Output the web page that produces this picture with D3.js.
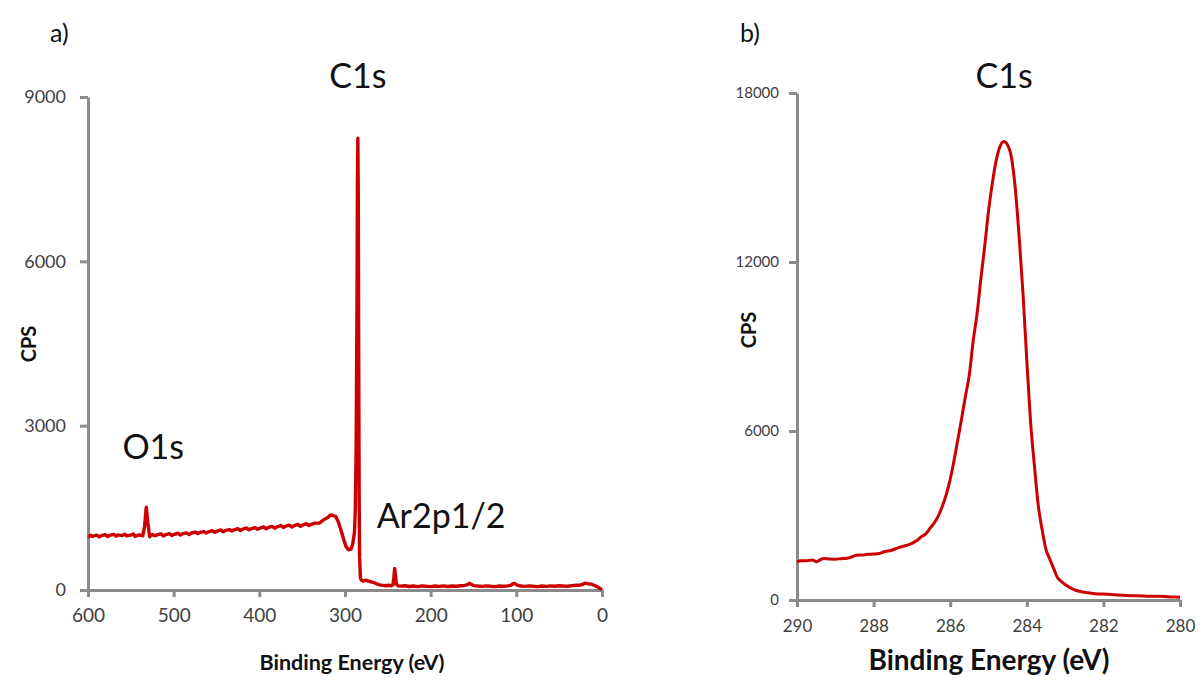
<!DOCTYPE html>
<html>
<head>
<meta charset="utf-8">
<script src="https://cdn.jsdelivr.net/npm/d3@7"></script>
<style>
  html, body { margin: 0; padding: 0; background: #fff; }
  svg { display: block; font-family: Lato, "Open Sans", sans-serif; }
</style>
</head>
<body>
<svg id="chart" width="1200" height="681"></svg>
<script>
// Survey spectrum (panel a): binding energy (eV) and counts per second
const surveyEnergy = [
  600, 597, 595, 590, 587, 585, 580, 577, 575, 570, 567, 565, 560, 557, 555, 550, 547, 545, 540, 536,
  534, 532, 530, 528, 525, 522, 520, 515, 512, 510, 505, 502, 500, 495, 492, 490, 485, 482, 480, 475,
  472, 470, 465, 462, 460, 455, 452, 450, 445, 442, 440, 435, 432, 430, 425, 422, 420, 415, 412, 410,
  405, 402, 400, 395, 392, 390, 385, 382, 380, 375, 372, 370, 365, 362, 360, 355, 352, 350, 345, 342,
  340, 335, 330, 325, 320, 317, 314, 311, 308, 305, 302, 299, 296, 293, 291, 289, 288, 287, 286, 285.5,
  285, 284.5, 284, 283.5, 283, 282, 281, 279, 276, 273, 270, 267, 264, 261, 258, 255, 252, 249, 246, 244,
  243, 242, 241, 240, 238, 235, 230, 225, 220, 215, 210, 205, 200, 195, 190, 185, 180, 175, 170, 165,
  160, 157, 155, 153, 150, 145, 140, 135, 130, 125, 120, 115, 110, 106, 104, 102, 100, 95, 90, 85,
  80, 75, 70, 65, 60, 55, 50, 45, 40, 35, 30, 25, 22, 20, 18, 15, 12, 10, 7, 5, 3, 1, 0
];
const surveyCps = [
  962, 1000, 978, 1004, 968, 990, 1012, 975, 998, 1015, 982, 1006, 992, 1020, 987, 1001, 1022, 978, 1008, 990,
  1160, 1510, 1210, 972, 1012, 990, 1002, 1026, 985, 1008, 1030, 996, 1012, 1036, 1002, 1024, 1044, 1012, 1036, 1058,
  1030, 1046, 1066, 1040, 1058, 1082, 1052, 1072, 1096, 1062, 1084, 1104, 1076, 1096, 1118, 1086, 1108, 1132, 1098, 1116,
  1138, 1108, 1124, 1152, 1118, 1140, 1160, 1128, 1150, 1176, 1142, 1162, 1184, 1150, 1172, 1196, 1162, 1182, 1210, 1176,
  1194, 1220, 1222, 1280, 1325, 1370, 1360, 1345, 1250, 1110, 950, 800, 735, 745, 840, 1050, 1450, 2600, 5200, 7400,
  8250, 7200, 4400, 1800, 600, 230, 180, 162, 178, 165, 150, 140, 118, 100, 88, 84, 78, 86, 78, 95,
  220, 395, 250, 110, 75, 70, 78, 64, 72, 62, 76, 68, 62, 72, 66, 76, 64, 72, 68, 78,
  84, 100, 122, 105, 80, 72, 66, 76, 68, 62, 74, 68, 75, 90, 115, 120, 95, 72, 66, 76,
  68, 62, 74, 66, 76, 68, 78, 72, 68, 80, 86, 92, 105, 122, 120, 110, 104, 90, 70, 55, 35, 15, 5
];

// High-resolution C1s region (panel b)
const c1sEnergy = [
  290.0, 289.9, 289.75, 289.6, 289.5, 289.4, 289.3, 289.15, 289.0, 288.85, 288.7, 288.6, 288.45, 288.3, 288.15,
  288.0, 287.85, 287.7, 287.55, 287.4, 287.3, 287.15, 287.0, 286.87, 286.75, 286.65, 286.53, 286.4, 286.3, 286.2,
  286.1, 286.0, 285.9, 285.8, 285.7, 285.6, 285.5, 285.4, 285.3, 285.2, 285.1, 285.0, 284.9, 284.8, 284.7,
  284.6, 284.5, 284.4, 284.3, 284.2, 284.1, 284.0, 283.9, 283.8, 283.7, 283.6, 283.5, 283.4, 283.3, 283.2,
  283.1, 283.0, 282.8, 282.6, 282.4, 282.2, 282.0, 281.7, 281.4, 281.1, 280.8, 280.5, 280.2, 280.0
];
const c1sCps = [
  1357, 1390, 1394, 1420, 1360, 1420, 1476, 1455, 1450, 1468, 1480, 1512, 1590, 1600, 1620,
  1630, 1650, 1720, 1760, 1830, 1880, 1935, 2010, 2110, 2250, 2330, 2540, 2770, 3010, 3350,
  3760, 4280, 4950, 5700, 6450, 7250, 8000, 9200, 10150, 11400, 12550, 13800, 14800, 15600, 16100,
  16280, 16150, 15700, 14600, 12900, 10900, 8500, 6300, 4750, 3350, 2500, 1800, 1450, 1120, 800,
  660, 550, 390, 300, 260, 225, 210, 185, 160, 150, 135, 130, 110, 100
];

const surveyXTicks = [600, 500, 400, 300, 200, 100, 0];
const surveyYTicks = [0, 3000, 6000, 9000];
const c1sXTicks = [290, 288, 286, 284, 282, 280];
const c1sYTicks = [0, 6000, 12000, 18000];

const surveyPeaks = [
  { label: "C1s", energy: 285, cps: 8250 },
  { label: "O1s", energy: 532, cps: 1510 },
  { label: "Ar2p1/2", energy: 242, cps: 395 }
];

const AXIS = "#8a8a8a";
const LINE = "#cc0000";
const svg = d3.select("#chart");

function drawPanel(cfg) {
  const x = d3.scaleLinear().domain(cfg.xDomain).range([cfg.left, cfg.right]);
  const y = d3.scaleLinear().domain(cfg.yDomain).range([cfg.bottom, cfg.top]);

  const g = svg.append("g");

  const xAxis = g.append("g")
    .attr("transform", `translate(0,${cfg.bottom})`)
    .call(d3.axisBottom(x).tickValues(cfg.xTicks).tickSize(7).tickSizeOuter(0).tickPadding(cfg.xPad).tickFormat(d3.format("d")));
  const yAxis = g.append("g")
    .attr("transform", `translate(${cfg.left},0)`)
    .call(d3.axisLeft(y).tickValues(cfg.yTicks).tickSize(8).tickSizeOuter(0).tickPadding(cfg.yPad).tickFormat(d3.format("d")));

  [xAxis, yAxis].forEach(a => {
    a.select(".domain").attr("stroke", AXIS).attr("stroke-width", 3);
    a.selectAll(".tick line").attr("stroke", AXIS).attr("stroke-width", 3);
    a.selectAll(".tick text").attr("fill", "#404040").attr("font-family", "Lato, 'Open Sans', sans-serif");
  });
  xAxis.selectAll(".tick text").attr("font-size", cfg.xFont);
  yAxis.selectAll(".tick text").attr("font-size", cfg.yFont);

  const data = cfg.energy.map((e, i) => [e, cfg.cps[i]]);
  g.append("path")
    .datum(data)
    .attr("fill", "none")
    .attr("stroke", LINE)
    .attr("stroke-width", cfg.lineWidth)
    .attr("stroke-linejoin", "round")
    .attr("d", d3.line().x(d => x(d[0])).y(d => y(d[1])).curve(cfg.curve));

  // axis titles
  g.append("text")
    .attr("x", cfg.xTitleX)
    .attr("y", cfg.xTitleY)
    .attr("text-anchor", "middle")
    .attr("font-size", cfg.xTitleFont)
    .attr("font-weight", "bold")
    .attr("fill", "#111")
    .text("Binding Energy (eV)");
  g.append("text")
    .attr("transform", `translate(${cfg.yTitleX},${cfg.yTitleY}) rotate(-90)`)
    .attr("text-anchor", "middle")
    .attr("font-size", 20)
    .attr("font-weight", "bold")
    .attr("fill", "#111")
    .text("CPS");

  // panel letter
  g.append("text")
    .attr("x", cfg.letterX)
    .attr("y", 42)
    .attr("font-size", 25)
    .attr("fill", "#111")
    .text(cfg.letter);

  return { x, y, g };
}

// Panel a: survey scan
const a = drawPanel({
  left: 88, right: 602, top: 97, bottom: 590,
  xDomain: [600, 0], yDomain: [0, 9000],
  xTicks: surveyXTicks, yTicks: surveyYTicks,
  xFont: 19, yFont: 18, xPad: 12, yPad: 14,
  energy: surveyEnergy, cps: surveyCps,
  lineWidth: 3.4, curve: d3.curveLinear,
  xTitleX: 352, xTitleY: 670, xTitleFont: 21.5,
  yTitleX: 36, yTitleY: 344,
  letter: "a)", letterX: 50
});

// peak labels, placed relative to each peak's position
const peakText = {
  "C1s": (p) => [a.x(p.energy), a.y(p.cps) - 50, "middle"],
  "O1s": (p) => [a.x(p.energy) + 7, a.y(p.cps) - 48, "middle"],
  "Ar2p1/2": (p) => [a.x(p.energy) - 18, a.y(p.cps) - 40, "start"]
};
surveyPeaks.forEach(p => {
  const [tx, ty, anchor] = peakText[p.label](p);
  a.g.append("text")
    .attr("x", tx).attr("y", ty)
    .attr("text-anchor", anchor)
    .attr("font-size", 34)
    .attr("fill", "#111")
    .text(p.label);
});

// Panel b: C1s high-resolution scan
const b = drawPanel({
  left: 797, right: 1180, top: 93, bottom: 600,
  xDomain: [290, 280], yDomain: [0, 18000],
  xTicks: c1sXTicks, yTicks: c1sYTicks,
  xFont: 17, yFont: 15, xPad: 13, yPad: 10,
  energy: c1sEnergy, cps: c1sCps,
  lineWidth: 3, curve: d3.curveMonotoneX,
  xTitleX: 989, xTitleY: 670, xTitleFont: 28,
  yTitleX: 756, yTitleY: 330,
  letter: "b)", letterX: 740
});

b.g.append("text")
  .attr("x", b.x(284.59))
  .attr("y", 88)
  .attr("text-anchor", "middle")
  .attr("font-size", 34)
  .attr("fill", "#111")
  .text("C1s");
</script>
</body>
</html>
